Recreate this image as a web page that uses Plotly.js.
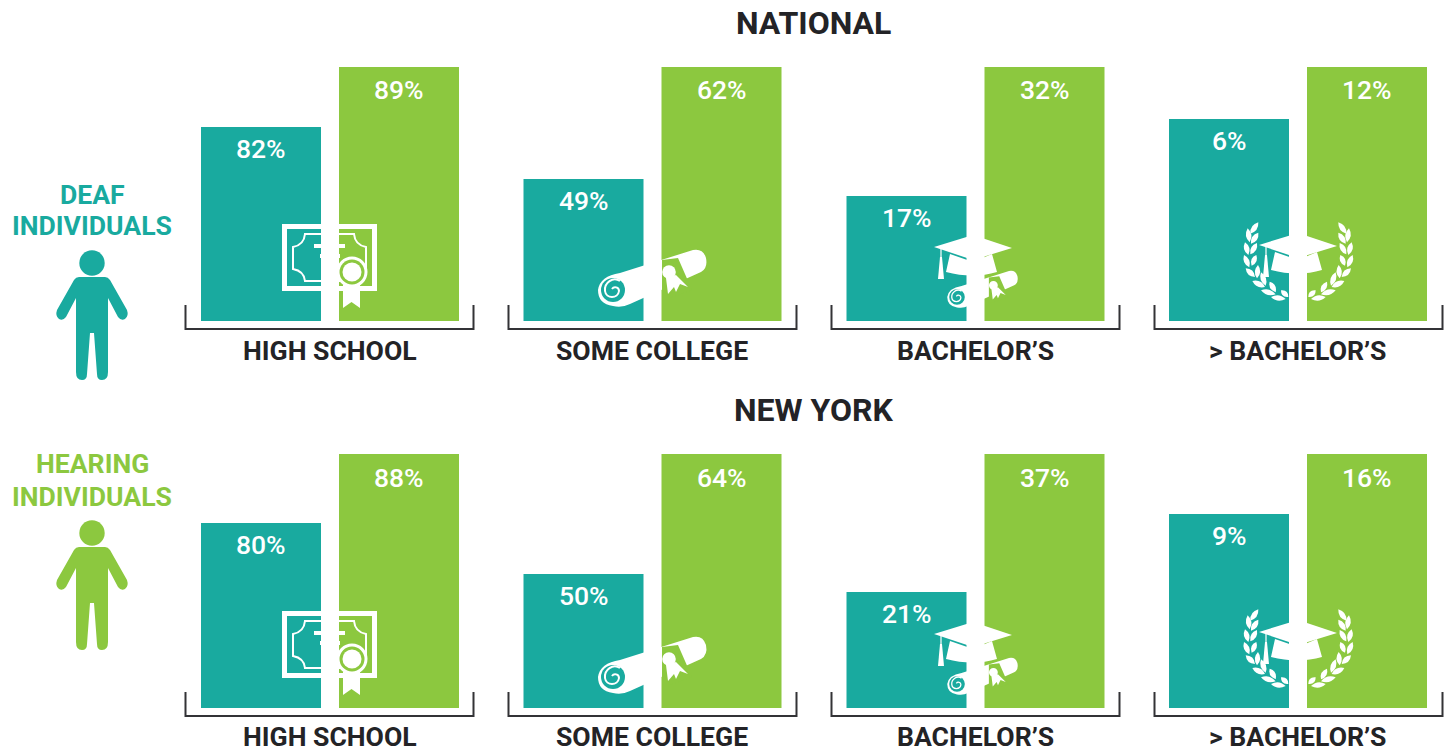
<!DOCTYPE html>
<html><head><meta charset="utf-8">
<style>html,body{margin:0;padding:0;background:#fff;overflow:hidden}#c{width:1448px;height:751px}</style>
<script src="https://cdn.plot.ly/plotly-3.0.1.min.js"></script></head>
<body><div id="c"></div>
<script>
// ---- data ----
const groups = ['Deaf', 'Hearing'];
const levels = ['HIGH SCHOOL', 'SOME COLLEGE', 'BACHELOR’S', '> BACHELOR’S'];
const nationalDeaf = [82, 49, 17, 6];
const nationalHearing = [89, 62, 32, 12];
const newYorkDeaf = [80, 50, 21, 9];
const newYorkHearing = [88, 64, 37, 16];
const regionTitles = ['NATIONAL', 'NEW YORK'];

// ---- layout ----
const W = 1448, H = 751;
const TEAL = '#19aa9f', GREEN = '#8cc83f', DARK = '#333336', INK = '#232326';
const panelLeft = [192, 514.5, 837.5, 1160];
const PANEL_W = 276;
const rowBase = [321, 708];
const rowTop = [67, 454];
// the source graphic does not share a scale across bars: each deaf bar has its own drawn top
const deafTop = [[127, 179, 196, 119], [523, 574, 592, 514]];
const BAR_W = 120 / 138;

const px = x => x / W, py = y => 1 - y / H;
const traces = [], annotations = [], shapes = [];
const layout = {
  width: W, height: H, margin: {l: 0, r: 0, t: 0, b: 0, pad: 0},
  paper_bgcolor: '#fff', plot_bgcolor: 'rgba(0,0,0,0)', showlegend: false,
  barmode: 'overlay', font: {family: 'Roboto, sans-serif'}
};

const pct = (x, xref, y, yref, yshift) => annotations.push({
  x, xref, y, yref, yshift, text: y + '%', showarrow: false, yanchor: 'middle', xanchor: 'center',
  font: {family: 'Roboto', size: 26.5, color: '#fff', weight: 500}
});
const label = (x, y, text, size, color) => annotations.push({
  x: px(x), y: py(y), xref: 'paper', yref: 'paper', text, showarrow: false, borderpad: 0,
  xanchor: 'center', yanchor: 'middle', font: {family: 'Roboto', size, color, weight: 700}
});

[[nationalDeaf, nationalHearing], [newYorkDeaf, newYorkHearing]].forEach(([deaf, hearing], r) => {
  levels.forEach((lvl, i) => {
    const n = r * 4 + i, xi = n + 1, yG = 2 * n + 1, yT = 2 * n + 2;
    const xn = 'x' + (xi === 1 ? '' : xi), yGn = 'y' + (yG === 1 ? '' : yG), yTn = 'y' + yT;
    layout['xaxis' + (xi === 1 ? '' : xi)] = {
      domain: [px(panelLeft[i]), px(panelLeft[i] + PANEL_W)], range: [-0.5, 1.5],
      type: 'category', categoryorder: 'array', categoryarray: groups, visible: false, fixedrange: true,
      anchor: yGn
    };
    layout['yaxis' + (yG === 1 ? '' : yG)] = {
      domain: [py(rowBase[r]), py(rowTop[r])], range: [0, hearing[i]], visible: false, fixedrange: true, anchor: xn
    };
    layout['yaxis' + yT] = {
      domain: [py(rowBase[r]), py(deafTop[r][i])], range: [0, deaf[i]], visible: false, fixedrange: true, anchor: xn
    };
    traces.push({type: 'bar', x: [groups[0]], y: [deaf[i]], width: BAR_W, xaxis: xn, yaxis: yTn,
      marker: {color: TEAL, line: {width: 0}}, hoverinfo: 'skip'});
    traces.push({type: 'bar', x: [groups[1]], y: [hearing[i]], width: BAR_W, xaxis: xn, yaxis: yGn,
      marker: {color: GREEN, line: {width: 0}}, hoverinfo: 'skip'});
    pct(groups[0], xn, deaf[i], yTn, -21.5);
    pct(groups[1], xn, hearing[i], yGn, -23);
    label(panelLeft[i] + 137.7, r ? 736 : 351, lvl, 26.6, INK);
  });
});
regionTitles.forEach((t, r) => label(813.5, r ? 410 : 23.5, t, 32, INK));
label(92, 194, 'DEAF', 26.6, TEAL);
label(92, 226, 'INDIVIDUALS', 26.6, TEAL);
label(92, 464, 'HEARING', 26.6, GREEN);
label(92, 496, 'INDIVIDUALS', 26.6, GREEN);

// ---- decoration helpers (page pixels -> paper) ----
function T(path, o) {
  o = Object.assign({dx: 0, dy: 0, s: 1, ox: 0, oy: 0}, o);
  return path.replace(/(-?[\d.]+)[ ,](-?[\d.]+)/g, (m, a, b) => {
    const X = o.ox + (+a - o.ox) * o.s + o.dx, Y = o.oy + (+b - o.oy) * o.s + o.dy;
    return px(X).toFixed(6) + ',' + py(Y).toFixed(6);
  });
}
function fill(path, color, o) {
  shapes.push({type: 'path', xref: 'paper', yref: 'paper', path: T(path, o), fillcolor: color,
    line: {width: 0}, layer: 'above'});
}
function stroke(path, color, w, o) {
  shapes.push({type: 'path', xref: 'paper', yref: 'paper', path: T(path, o), fillcolor: 'rgba(0,0,0,0)',
    line: {width: w, color}, layer: 'above'});
}
function circle(cx, cy, rad, color, o) {
  o = Object.assign({dx: 0, dy: 0, s: 1, ox: 0, oy: 0}, o);
  const X = o.ox + (cx - o.ox) * o.s + o.dx, Y = o.oy + (cy - o.oy) * o.s + o.dy, R = rad * o.s;
  shapes.push({type: 'circle', xref: 'paper', yref: 'paper', x0: px(X - R), x1: px(X + R), y0: py(Y + R), y1: py(Y - R),
    fillcolor: color, line: {width: 0}, layer: 'above'});
}
function leaf(x1, y1, x2, y2, w, dx, dy) {
  const mx = (x1 + x2) / 2, my = (y1 + y2) / 2, l = Math.hypot(x2 - x1, y2 - y1);
  const nx = -(y2 - y1) / l * w, ny = (x2 - x1) / l * w;
  fill(`M ${x1},${y1} Q ${mx + nx},${my + ny} ${x2},${y2} Q ${mx - nx},${my - ny} ${x1},${y1} Z`, '#fff', {dx, dy});
}

// ---- icons ----
function person(dy, color) {
  circle(92, 263, 12.7, color, {dy});
  fill('M 79,277 L 105,277 Q 108,277 110,280 L 127,310 Q 129,316 125,319 Q 121,321 118,317 L 108,298 L 108,372 Q 108,380 102,380 Q 97,380 97,374 L 94,333 L 90,333 L 87,374 Q 87,380 82,380 Q 76,380 76,372 L 76,298 L 66,317 Q 63,321 59,319 Q 55,316 57,310 L 74,280 Q 76,277 79,277 Z', color, {dy});
}
person(0, TEAL);
person(270, GREEN);

function bracket(dx, dy) {
  stroke('M 185.5,305 L 185.5,329 L 473.5,329 L 473.5,305', DARK, 2, {dx, dy});
}
function diploma(dy) {
  const o = {dy};
  stroke('M 284.5,226.5 L 374.5,226.5 L 374.5,288.5 L 284.5,288.5 Z', '#fff', 5, o);
  stroke('M 305,234 L 354,234 Q 355,245 366,247 L 366,270 Q 355,271 354,281 L 305,281 Q 304,271 293,269 L 293,247 Q 304,245 305,234 Z', '#fff', 2, o);
  fill('M 314,244 L 345,244 L 345,248 L 314,248 Z', '#fff', o);
  fill('M 320,254 L 340,254 L 340,258 L 320,258 Z', '#fff', o);
  fill('M 343,285 L 360,285 L 360,308 L 351.5,302 L 343,308 Z', '#fff', o);
  circle(352, 272, 15.5, '#fff', o);
  circle(352, 272, 12.5, GREEN, o);
  circle(352, 272, 9.5, '#fff', o);
}
function roll(o) {
  fill('M 620,273 L 693,250 Q 703,248 706,258 Q 708,268 701,272 L 630,304 Q 622,308 613,306 Q 598,304 598,290 Q 600,276 620,273 Z', '#fff', o);
  circle(613, 290, 12, TEAL, o);
  stroke('M 620,281 C 613,276 604,283 605,291 C 606,299 618,299 619,291 C 619,287 614,286 612,289', '#fff', 2 * (o.s || 1), o);
  fill('M 662,260 L 678,258 L 692,290 L 670,298 L 662,298 Z', GREEN, o);
  fill('M 666,278 L 668,294 L 674,287 L 676,292 L 680,284 L 688,287 L 676,275 Z', '#fff', o);
  circle(669, 272, 6.8, '#fff', o);
}
function cap(o) {
  fill('M 934,247 L 973,235 L 1012,248 L 973,260 Z', '#fff', o);
  fill('M 950,254 L 973,262 L 992,254 L 997,272 Q 973,279 946,272 Z', '#fff', o);
  stroke('M 941,249 L 941,259', '#fff', 1.2, o);
  fill('M 940,257 L 942,257 L 944,279 L 938,279 Z', '#fff', o);
}
const leaves = [
  [100, 22, 76, 56], [68, 40, 74, 82], [100, 53, 78, 86], [60, 82, 70, 120], [96, 84, 76, 118],
  [57, 120, 73, 157], [94, 120, 80, 152], [62, 160, 90, 186], [99, 150, 96, 190], [82, 198, 120, 216],
  [108, 172, 122, 212], [108, 226, 152, 238], [134, 200, 152, 232], [138, 246, 182, 252], [168, 226, 190, 246]
];
function laurel(dy) {
  const toX = z => 1225 + z / 3, toY = z => 215 + z / 3, mirror = z => 2 * 220 - z;
  leaves.forEach(l => {
    leaf(toX(l[0]), toY(l[1]), toX(l[2]), toY(l[3]), 5.5, 0, dy);
    leaf(toX(mirror(l[0])), toY(l[1]), toX(mirror(l[2])), toY(l[3]), 5.5, 0, dy);
  });
}
[0, 387].forEach(dy => {
  [0, 323, 646, 969].forEach(dx => bracket(dx, dy));
  diploma(dy);
  roll({dy});
  roll({s: 0.65, ox: 613, oy: 290, dx: 344, dy: dy + 7});
  cap({dy});
  cap({dx: 325, dy: dy - 2});
  laurel(dy);
});

layout.annotations = annotations;
layout.shapes = shapes;
Plotly.newPlot('c', traces, layout, {staticPlot: true, displayModeBar: false});
</script></body></html>
